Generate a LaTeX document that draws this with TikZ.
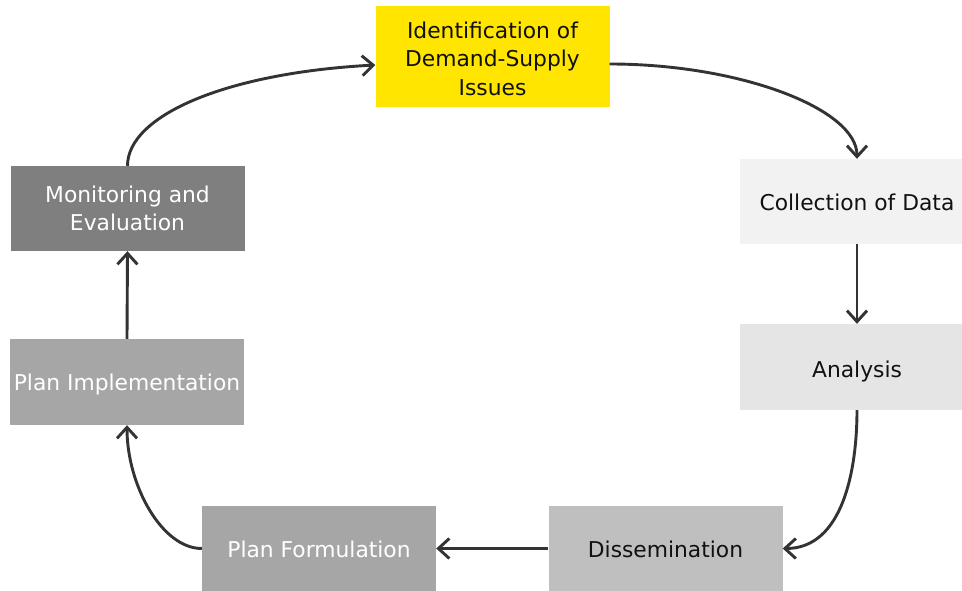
\documentclass[tikz,border=0pt]{standalone}
\usepackage{fontspec}
\setmainfont{DejaVu Sans}
\usetikzlibrary{arrows.meta}

\definecolor{stepyellow}{HTML}{FFE500}
\definecolor{collectfill}{HTML}{F2F2F2}
\definecolor{analysisfill}{HTML}{E5E5E5}
\definecolor{dissfill}{HTML}{BFBFBF}
\definecolor{planfill}{HTML}{A6A6A6}
\definecolor{monifill}{HTML}{7F7F7F}
\definecolor{linkgray}{HTML}{333333}
\definecolor{inkblack}{HTML}{111111}

% lower a label without changing the box size used for centring
\newcommand{\lowerlabel}[2]{\raisebox{-#1}[\height][\depth]{#2}}

\begin{document}
\begin{tikzpicture}[x=1pt,y=-1pt,
  stagebox/.style={rectangle, inner sep=0pt, minimum width=234pt,
    minimum height=85pt, align=center,
    font=\fontsize{21.8}{28.5}\selectfont},
  darktext/.style={text=inkblack},
  lighttext/.style={text=white},
  link/.style={draw=linkgray, line width=2.9pt,
    -{Straight Barb[length=11pt,width=20pt]}}]

\useasboundingbox (0,0) rectangle (962,591);

% stages of the planning cycle
\node[stagebox, darktext, fill=stepyellow, minimum height=101pt] (ident) at (492.5,56.5)
  {\lowerlabel{4.5pt}{\begin{tabular}{@{}c@{}}Identification of\\Demand-Supply\\Issues\end{tabular}}};
\node[stagebox, darktext, fill=collectfill] (coll) at (857,201.5) {\lowerlabel{1pt}{Collection of Data}};
\node[stagebox, darktext, fill=analysisfill, minimum height=86pt] (anal) at (857,367) {\lowerlabel{4pt}{Analysis}};
\node[stagebox, darktext, fill=dissfill] (diss) at (665.5,548.5) {\lowerlabel{1pt}{Dissemination}};
\node[stagebox, lighttext, fill=planfill] (form) at (319,548.5) {\lowerlabel{1pt}{Plan Formulation}};
\node[stagebox, lighttext, fill=planfill, minimum height=86pt] (impl) at (127,382) {\lowerlabel{2.5pt}{Plan Implementation}};
\node[stagebox, lighttext, fill=monifill] (moni) at (127.5,208.5) {Monitoring and\\Evaluation};

% cycle connectors
\draw[link] ([yshift=-7.5pt]ident.east) .. controls +(130,0) and +(0,-50) .. (coll.north);
\draw[link] (coll.south) -- (anal.north);
\draw[link] (anal.south) .. controls +(0,60) and +(60,0) .. (diss.east);
\draw[link] (diss.west) -- (form.east);
\draw[link] (form.west) .. controls +(-40,0) and +(0,60) .. (impl.south);
\draw[link] (impl.north) -- (moni.south);
\draw[link] (moni.north) .. controls +(0,-50) and +(-150,8) .. ([yshift=-8.5pt]ident.west);
\end{tikzpicture}
\end{document}
